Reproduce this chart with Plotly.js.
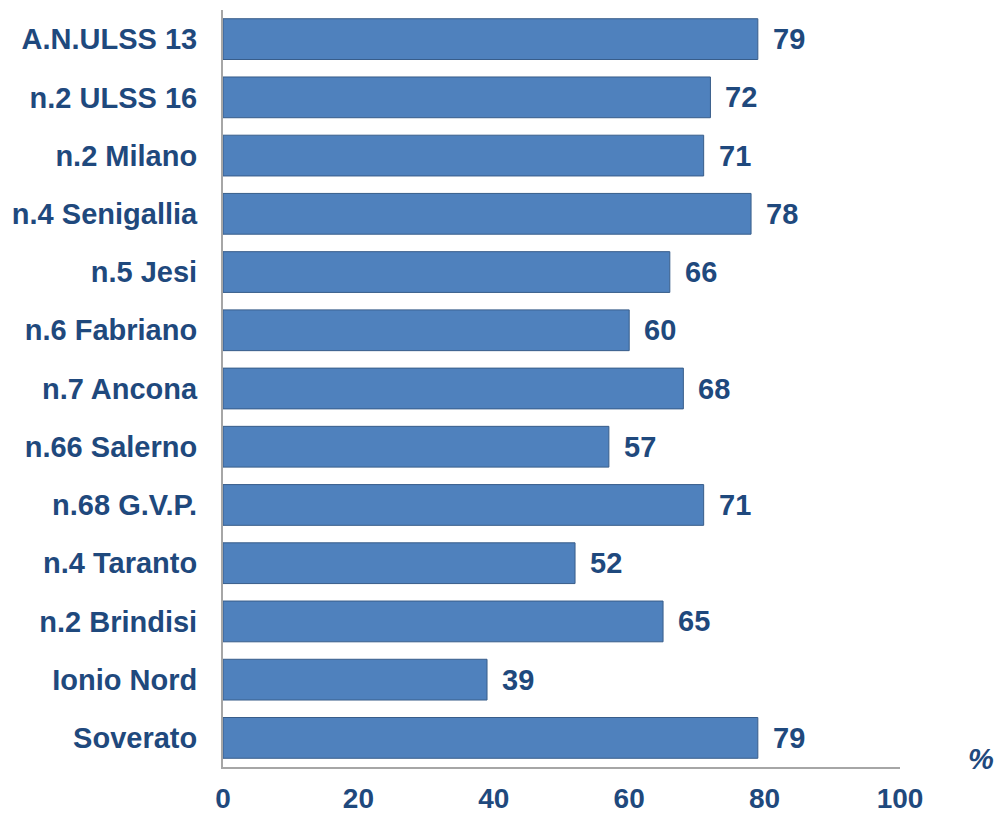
<!DOCTYPE html>
<html>
<head>
<meta charset="utf-8">
<script src="https://cdn.plot.ly/plotly-3.0.1.min.js"></script>
<style>html,body{margin:0;padding:0;background:#fff;}#chart{width:996px;height:813px;}</style>
</head>
<body>
<div id="chart"></div>
<script>
const categories = ["A.N.ULSS 13","n.2 ULSS 16","n.2 Milano","n.4 Senigallia","n.5 Jesi","n.6 Fabriano","n.7 Ancona","n.66 Salerno","n.68 G.V.P.","n.4 Taranto","n.2 Brindisi","Ionio Nord","Soverato"];
const values = [79,72,71,78,66,60,68,57,71,52,65,39,79];
const xTicks = [0,20,40,60,80,100];
const unitLabel = "%";

const textColor = "#1f497d";
const fontFam = "Liberation Sans, Arial, sans-serif";

const trace = {
  type: "bar",
  orientation: "h",
  x: values,
  y: categories,
  marker: {color: "#4f81bd", line: {color: "#385d8a", width: 1}},
  hoverinfo: "none"
};

const annotations = values.map((v, i) => ({
  x: v, y: categories[i], xref: "x", yref: "y",
  text: String(v), showarrow: false, xanchor: "left", yanchor: "middle",
  xshift: 13,
  font: {family: fontFam, size: 29, color: textColor, weight: "bold"}
}));
annotations.push({
  xref: "paper", yref: "paper", x: 1.12, y: 0.01,
  text: "<b><i>" + unitLabel + "</i></b>", showarrow: false,
  xanchor: "center", yanchor: "middle",
  font: {family: fontFam, size: 29, color: textColor}
});

const layout = {
  width: 996, height: 813,
  margin: {l: 223, r: 96, t: 10, b: 46, pad: 0},
  paper_bgcolor: "#fff", plot_bgcolor: "#fff",
  showlegend: false,
  bargap: 0.3,
  font: {family: fontFam, color: textColor},
  xaxis: {
    range: [0, 100], tickvals: xTicks, ticktext: xTicks.map(String),
    showgrid: false, zeroline: false, showline: true, linecolor: "#a6a6a6", linewidth: 2,
    ticks: "", ticklabelstandoff: 5,
    tickfont: {family: fontFam, size: 28, color: textColor, weight: "bold"},
    fixedrange: true
  },
  yaxis: {
    autorange: "reversed", type: "category",
    showgrid: false, zeroline: false, showline: true, linecolor: "#a6a6a6", linewidth: 2,
    ticks: "", ticklabelstandoff: 18,
    tickfont: {family: fontFam, size: 29, color: textColor, weight: "bold"},
    fixedrange: true
  },
  annotations: annotations
};

Plotly.newPlot("chart", [trace], layout, {displayModeBar: false, staticPlot: true});
</script>
</body>
</html>
